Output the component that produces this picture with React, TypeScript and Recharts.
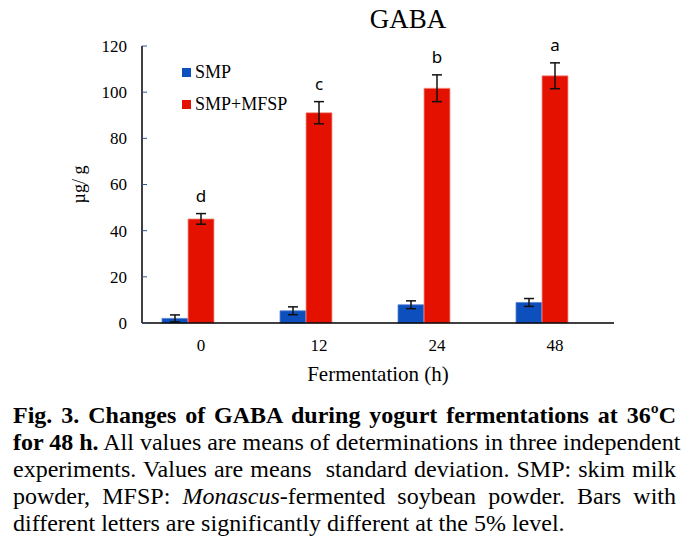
import { BarChart, Bar, XAxis, YAxis, ErrorBar, Legend, LabelList, Label } from "recharts";

// GABA content (µg/g) during yogurt fermentation
const hours = ["0", "12", "24", "48"];
const smp = [2.0, 5.3, 7.9, 8.9];
const smpSd = [1.5, 1.7, 1.7, 1.7];
const mfsp = [45.1, 91.1, 101.7, 107.1];
const mfspSd = [2.3, 4.8, 5.8, 5.6];
const letters = ["d", "c", "b", "a"];
const yTicks = [0, 20, 40, 60, 80, 100, 120];

const data = hours.map((h, i) => ({
  h,
  smp: smp[i],
  smpSd: smpSd[i],
  mfsp: mfsp[i],
  mfspSd: mfspSd[i],
}));

const serif = "'Liberation Serif', 'Times New Roman', serif";
const BLUE = "#0E4FBE";
const RED = "#E41000";

const YTick = (props: any) => {
  const { x, y, payload } = props;
  return (
    <g>
      <line x1={x} x2={x + 5} y1={y} y2={y} stroke="#2F5597" strokeWidth={1} />
      <text x={x - 15} y={y} dy="0.35em" textAnchor="end" fontSize={17} fontFamily={serif} fill="#000">
        {payload.value}
      </text>
    </g>
  );
};

const XTick = (props: any) => {
  const { x, y, payload } = props;
  return (
    <text x={x + 13} y={y + 28} textAnchor="middle" fontSize={17} fontFamily={serif} fill="#000">
      {payload.value}
    </text>
  );
};

const LetterLabel = (props: any) => {
  const { x, y, width, height, value } = props;
  const i = mfsp.indexOf(value);
  if (i < 0) return null;
  const errPx = (mfspSd[i] * height) / value;
  return (
    <text
      x={x + width / 2}
      y={y - errPx - 18}
      dy="0.35em"
      textAnchor="middle"
      fontSize={17}
      fontFamily="'Noto Sans', sans-serif"
      fill="#000"
    >
      {letters[i]}
    </text>
  );
};

const YLabel = (props: any) => {
  const { viewBox } = props;
  const cx = viewBox.x - 3;
  const cy = viewBox.y + viewBox.height / 2;
  return (
    <text
      x={cx}
      y={cy}
      transform={`rotate(-90 ${cx} ${cy})`}
      textAnchor="middle"
      dominantBaseline="central"
      fontSize={18}
      fontFamily={serif}
      fill="#000"
    >
      µg/ g
    </text>
  );
};

const LegendBox = () => (
  <div style={{ fontFamily: serif, fontSize: 18, color: "#000" }}>
    {[
      { name: "SMP", color: BLUE },
      { name: "SMP+MFSP", color: RED },
    ].map((it) => (
      <div key={it.name} style={{ display: "flex", alignItems: "center", height: 32 }}>
        <span style={{ display: "inline-block", width: 9, height: 9, background: it.color, marginRight: 4 }} />
        <span>{it.name}</span>
      </div>
    ))}
  </div>
);

const lineStyle: any = { textAlign: "justify", textAlignLast: "justify", whiteSpace: "nowrap" };

export default function App() {
  return (
    <div style={{ position: "absolute", left: 0, top: 0, width: 698, height: 546, background: "#fff" }}>
      <svg width={698} height={40} style={{ position: "absolute", left: 0, top: 0 }}>
        <text x={408} y={28} textAnchor="middle" fontSize={27} fontFamily={serif} fill="#000">
          GABA
        </text>
      </svg>
      <div style={{ position: "absolute", left: 0, top: 0 }}>
        <BarChart
          width={698}
          height={390}
          data={data}
          margin={{ top: 46, right: 84, bottom: 7, left: 82 }}
          barSize={26}
          barGap={0}
        >
          <XAxis
            dataKey="h"
            height={60}
            padding={{ left: -13, right: 13 }}
            tickSize={0}
            tickMargin={0}
            tickLine={false}
            tick={<XTick />}
            axisLine={{ stroke: "#000", strokeWidth: 1.5 }}
          >
            <Label
              value="Fermentation (h)"
              position="insideBottom"
              offset={2}
              style={{ fontFamily: serif, fontSize: 21, fill: "#000" }}
            />
          </XAxis>
          <XAxis
            xAxisId="top"
            dataKey="h"
            orientation="top"
            height={0}
            tick={false}
            tickLine={false}
            axisLine={{ stroke: "#000", strokeWidth: 1.5 }}
          />
          <YAxis
            domain={[0, 120]}
            ticks={yTicks}
            width={60}
            tickSize={0}
            tickMargin={0}
            tickLine={false}
            tick={<YTick />}
            axisLine={{ stroke: "#000", strokeWidth: 1.5 }}
          >
            <Label content={<YLabel />} />
          </YAxis>
          <YAxis
            yAxisId="right"
            orientation="right"
            domain={[0, 120]}
            width={0}
            tick={false}
            tickLine={false}
            axisLine={{ stroke: "#000", strokeWidth: 1.5 }}
          />
          <Legend
            layout="vertical"
            align="center"
            verticalAlign="middle"
            content={<LegendBox />}
            wrapperStyle={{ top: 56, left: 182, width: "auto" }}
          />
          <Bar dataKey="smp" name="SMP" fill={BLUE} stroke="#5b84d4" strokeWidth={0.8} isAnimationActive={false}>
            <ErrorBar dataKey="smpSd" width={5} stroke="#111" strokeWidth={1.5} direction="y" />
          </Bar>
          <Bar dataKey="mfsp" name="SMP+MFSP" fill={RED} stroke="#f29a90" strokeWidth={0.8} isAnimationActive={false}>
            <ErrorBar dataKey="mfspSd" width={5} stroke="#111" strokeWidth={1.5} direction="y" />
            <LabelList dataKey="mfsp" content={<LetterLabel />} />
          </Bar>
        </BarChart>
      </div>
      <div
        style={{
          position: "absolute",
          left: 13,
          top: 402,
          width: 663,
          fontFamily: serif,
          fontSize: 24,
          lineHeight: "27px",
          color: "#000",
        }}
      >
        <div style={lineStyle}>
          <b>Fig. 3. Changes of GABA during yogurt fermentations at 36ºC</b>
        </div>
        <div style={lineStyle}>
          <b>for 48 h.</b> All values are means of determinations in three independent
        </div>
        <div style={lineStyle}>experiments. Values are means&nbsp; standard deviation. SMP: skim milk</div>
        <div style={lineStyle}>
          powder, MFSP: <i>Monascus</i>-fermented soybean powder. Bars with
        </div>
        <div>different letters are significantly different at the 5% level.</div>
      </div>
    </div>
  );
}
